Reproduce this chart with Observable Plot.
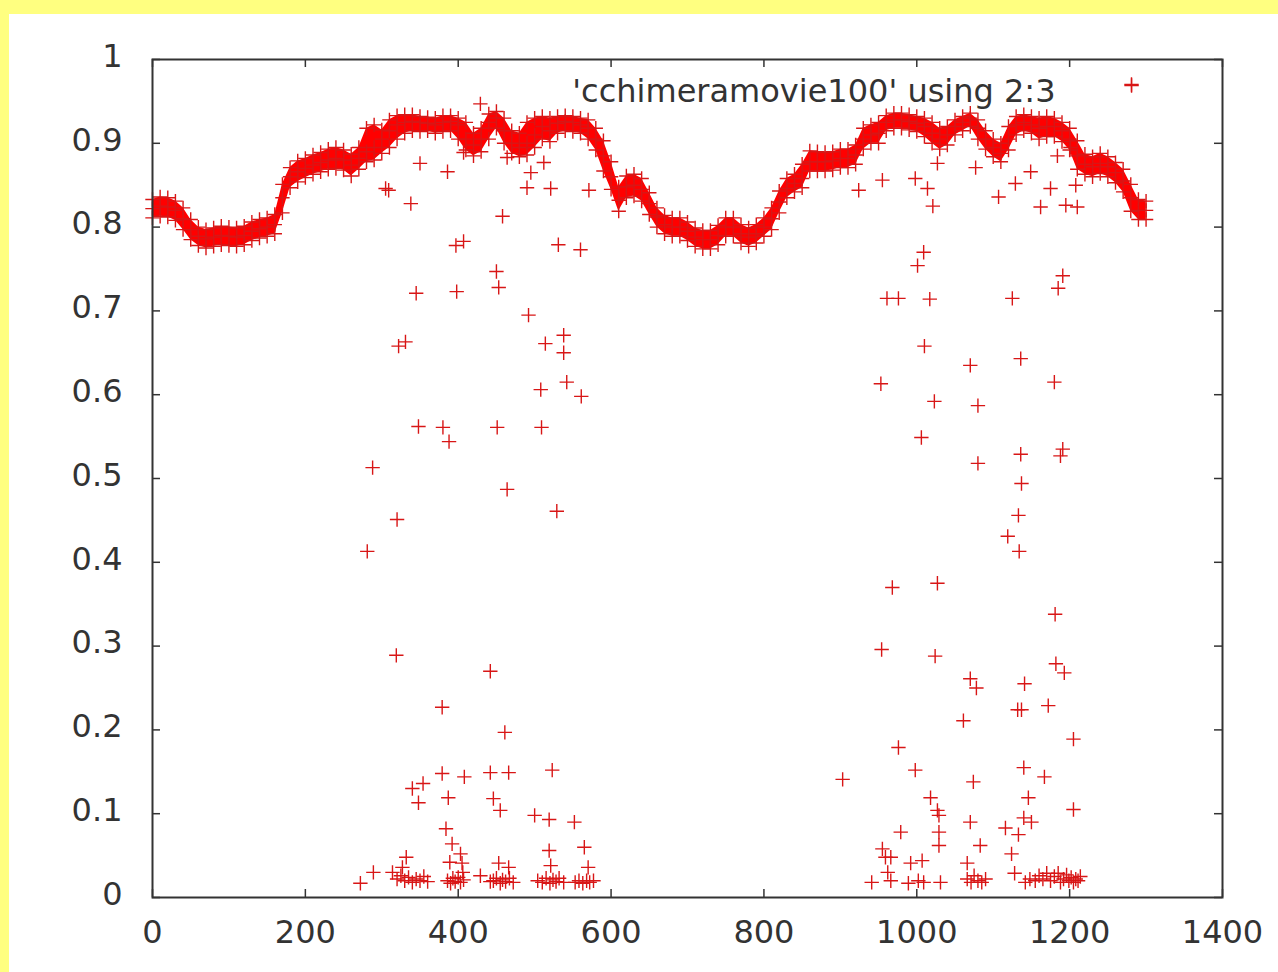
<!DOCTYPE html>
<html><head><meta charset="utf-8">
<script src="https://cdn.jsdelivr.net/npm/d3@7"></script>
<script src="https://cdn.jsdelivr.net/npm/@observablehq/plot@0.6"></script>
<style>
html,body{margin:0;padding:0;background:#ffff80;overflow:hidden;}
#chart{position:absolute;left:9px;top:14px;width:1269px;height:958px;background:#fff;}
</style></head><body><div id="chart"></div>
<script>
// Main band: frame index x = bandStart + i*bandStep; three readings of the band (middle, upper and lower edge)
const bandStart = 0, bandStep = 10;
const bandMid = [0.822,0.825,0.824,0.820,0.810,0.797,0.789,0.786,0.788,0.790,
0.789,0.788,0.790,0.795,0.798,0.800,0.803,0.835,0.860,0.866,
0.870,0.874,0.877,0.880,0.882,0.880,0.874,0.882,0.890,0.895,
0.905,0.915,0.922,0.925,0.926,0.925,0.924,0.922,0.925,0.926,
0.922,0.905,0.898,0.905,0.925,0.930,0.915,0.900,0.895,0.900,
0.910,0.920,0.915,0.924,0.926,0.925,0.922,0.918,0.905,0.885,
0.860,0.832,0.848,0.850,0.845,0.828,0.812,0.803,0.800,0.800,
0.795,0.788,0.785,0.785,0.790,0.800,0.800,0.792,0.788,0.792,
0.800,0.810,0.830,0.846,0.852,0.858,0.878,0.878,0.878,0.879,
0.882,0.882,0.886,0.905,0.910,0.912,0.925,0.928,0.928,0.926,
0.924,0.920,0.912,0.905,0.910,0.920,0.925,0.930,0.918,0.905,
0.895,0.888,0.905,0.922,0.925,0.922,0.918,0.920,0.920,0.915,
0.905,0.885,0.875,0.872,0.876,0.872,0.865,0.855,0.835,0.820,0.820];
const bandTop = [0.833,0.836,0.835,0.831,0.823,0.809,0.800,0.797,0.799,0.801,
0.800,0.799,0.801,0.806,0.809,0.811,0.815,0.851,0.871,0.879,
0.882,0.886,0.889,0.893,0.895,0.892,0.887,0.895,0.918,0.922,
0.916,0.928,0.933,0.934,0.934,0.932,0.931,0.930,0.933,0.933,
0.930,0.925,0.912,0.918,0.935,0.938,0.930,0.915,0.912,0.925,
0.930,0.932,0.930,0.932,0.933,0.932,0.930,0.928,0.918,0.903,
0.878,0.848,0.861,0.863,0.858,0.841,0.823,0.814,0.811,0.811,
0.806,0.799,0.796,0.796,0.802,0.811,0.811,0.803,0.799,0.803,
0.811,0.823,0.843,0.858,0.863,0.875,0.891,0.890,0.889,0.890,
0.893,0.893,0.898,0.918,0.922,0.925,0.933,0.936,0.936,0.934,
0.932,0.930,0.925,0.918,0.920,0.928,0.932,0.936,0.928,0.915,
0.905,0.900,0.920,0.932,0.934,0.932,0.930,0.932,0.930,0.925,
0.918,0.903,0.887,0.884,0.888,0.884,0.877,0.869,0.851,0.833,0.831];
const bandBottom = [0.811,0.813,0.812,0.808,0.797,0.785,0.778,0.775,0.777,0.779,
0.778,0.777,0.779,0.784,0.787,0.789,0.792,0.817,0.847,0.854,
0.859,0.863,0.866,0.869,0.870,0.868,0.861,0.869,0.878,0.880,
0.888,0.895,0.905,0.912,0.915,0.914,0.915,0.912,0.914,0.915,
0.905,0.892,0.885,0.890,0.905,0.918,0.900,0.888,0.884,0.886,
0.895,0.905,0.902,0.912,0.915,0.914,0.912,0.905,0.892,0.867,
0.845,0.819,0.835,0.837,0.831,0.815,0.800,0.792,0.789,0.789,
0.784,0.777,0.774,0.774,0.779,0.789,0.789,0.781,0.777,0.781,
0.789,0.797,0.817,0.835,0.842,0.847,0.867,0.867,0.867,0.868,
0.871,0.871,0.875,0.893,0.900,0.900,0.915,0.918,0.918,0.916,
0.914,0.908,0.900,0.893,0.898,0.910,0.915,0.920,0.905,0.893,
0.884,0.878,0.892,0.910,0.915,0.912,0.905,0.908,0.908,0.902,
0.892,0.869,0.863,0.860,0.864,0.860,0.853,0.842,0.819,0.809,0.809];

// Scattered points away from the band: frame index and value
const outlierX = [281,288,305,309,319,320,322,331,338,345,348,350,380,386,388,397,398,407,407,429,
442,450,453,451,458,464,464,490,492,495,508,509,512,514,521,529,531,538,538,542,560,561,571,
272,289,314,320,325,330,335,340,345,350,355,360,327,332,340,354,348,379,379,408,387,384,392,403,389,405,406,
386,390,393,396,400,403,407,429,442,461,442,466,446,455,453,466,446,450,455,458,462,467,472,
523,500,519,519,521,504,510,515,520,524,528,532,538,552,565,570,553,558,563,568,572,577,
903,924,953,954,955,961,968,976,998,1001,1006,1009,1010,1014,1017,1021,1023,1024,1027,1027,
1070,1070,1077,1078,1080,1080,1107,1119,1125,1129,1133,1134,1136,1137,1136,1141,1149,1162,1175,1180,
1181,1182,1184,1185,1188,1191,1191,1193,1195,1201,1208,1210,1281,
941,955,959,962,966,966,976,979,998,1018,1027,1029,1029,1029,992,1007,989,1002,1009,1031,
1061,1074,1070,1083,1066,1066,1071,1075,1080,1085,1090,1132,1137,1172,1205,1140,1167,1146,1205,1140,
1150,1116,1133,1124,1128,1142,1148,1155,1160,1165,1170,1175,1180,1185,1188,1192,1196,1199,1202,1205,
1208,1211,1214];
const outlierY = [0.413,0.513,0.846,0.844,0.289,0.451,0.658,0.663,0.828,0.721,0.562,0.876,0.561,0.866,0.544,0.778,0.723,0.783,0.889,0.947,
0.270,0.747,0.728,0.561,0.813,0.487,0.883,0.847,0.695,0.865,0.606,0.561,0.877,0.661,0.846,0.461,0.779,0.671,0.650,0.615,0.773,0.598,0.844,
0.017,0.030,0.030,0.022,0.026,0.020,0.024,0.018,0.022,0.020,0.025,0.019,0.036,0.048,0.130,0.136,0.113,0.227,0.148,0.144,0.119,0.082,0.064,0.052,0.042,0.041,0.030,
0.020,0.017,0.023,0.019,0.024,0.018,0.021,0.026,0.019,0.197,0.149,0.149,0.118,0.104,0.041,0.036,0.020,0.023,0.017,0.021,0.019,0.023,0.018,
0.152,0.098,0.093,0.056,0.038,0.020,0.018,0.023,0.017,0.021,0.019,0.023,0.018,0.090,0.060,0.036,0.018,0.020,0.017,0.020,0.018,0.020,
0.141,0.844,0.613,0.296,0.856,0.715,0.370,0.715,0.858,0.754,0.549,0.770,0.658,0.846,0.714,0.825,0.592,0.288,0.375,0.876,
0.635,0.261,0.871,0.250,0.587,0.518,0.836,0.431,0.715,0.852,0.456,0.413,0.529,0.494,0.643,0.255,0.866,0.824,0.846,0.615,
0.338,0.279,0.885,0.727,0.527,0.742,0.535,0.268,0.826,0.895,0.850,0.824,0.969,
0.018,0.058,0.048,0.030,0.020,0.048,0.179,0.078,0.152,0.119,0.104,0.098,0.078,0.062,0.041,0.044,0.017,0.020,0.018,0.018,
0.211,0.138,0.090,0.062,0.041,0.022,0.018,0.026,0.020,0.018,0.022,0.224,0.224,0.229,0.189,0.155,0.144,0.119,0.105,0.095,
0.090,0.083,0.075,0.052,0.029,0.018,0.022,0.020,0.026,0.022,0.029,0.020,0.025,0.029,0.018,0.022,0.027,0.020,0.024,0.018,
0.022,0.020,0.025];

const xTicks = [0,200,400,600,800,1000,1200,1400];
const yTicks = [0,0.1,0.2,0.3,0.4,0.5,0.6,0.7,0.8,0.9,1];
const seriesLabel = "'cchimeramovie100' using 2:3";

const band = bandMid.map((v, i) => ({x: bandStart + i * bandStep, mid: v, top: bandTop[i], bottom: bandBottom[i]}));
const points = [];
band.forEach(d => { points.push({x: d.x, y: d.mid}, {x: d.x, y: d.top}, {x: d.x, y: d.bottom}); });
outlierX.forEach((v, i) => points.push({x: v, y: outlierY[i]}));

const W = 1269, H = 958;
const mL = 143, mR = 56, mT = 45, mB = 75;
const fw = W - mL - mR, fh = H - mT - mB;
const tickLen = 8;
const ink = "#333333";
const red = "#d81616";
const plusR = 4.7;
const fs = 32;

const chart = Plot.plot({
  width: W, height: H,
  marginLeft: mL, marginRight: mR, marginTop: mT, marginBottom: mB,
  style: {fontFamily: "'DejaVu Sans', sans-serif", fontSize: fs + "px", color: ink, background: "transparent", overflow: "visible"},
  x: {domain: [0, 1400]},
  y: {domain: [0, 1]},
  marks: [
    Plot.areaY(band, {x: "x", y1: "bottom", y2: "top", fill: "#ff0000", curve: "linear"}),
    Plot.dot(points, {x: "x", y: "y", symbol: "plus", r: plusR, stroke: red, strokeWidth: 1.4}),
    Plot.frame({stroke: ink, strokeWidth: 2}),
    Plot.axisX({ticks: xTicks, tickSize: 0, tickPadding: 23, label: null, tickFormat: d => String(d), fontSize: fs, fill: ink}),
    Plot.axisY({ticks: yTicks, tickSize: 0, tickPadding: 30, dy: -3, label: null, tickFormat: d => String(+d.toFixed(1)), fontSize: fs, fill: ink}),
    Plot.tickX(xTicks, {x: d => d, insetTop: fh - tickLen, stroke: ink, strokeWidth: 1.5}),
    Plot.tickX(xTicks, {x: d => d, insetBottom: fh - tickLen, stroke: ink, strokeWidth: 1.5}),
    Plot.tickY(yTicks, {y: d => d, insetRight: fw - tickLen, stroke: ink, strokeWidth: 1.5}),
    Plot.tickY(yTicks, {y: d => d, insetLeft: fw - tickLen, stroke: ink, strokeWidth: 1.5}),
    Plot.text([seriesLabel], {text: d => d, frameAnchor: "top-right", dx: -167, dy: 20, textAnchor: "end", fill: ink, fontSize: fs}),
    Plot.dot([seriesLabel], {frameAnchor: "top-right", dx: -91, dy: 25, symbol: "plus", r: plusR, stroke: red, strokeWidth: 1.4})
  ]
});
document.getElementById("chart").appendChild(chart);
</script>
</body></html>
